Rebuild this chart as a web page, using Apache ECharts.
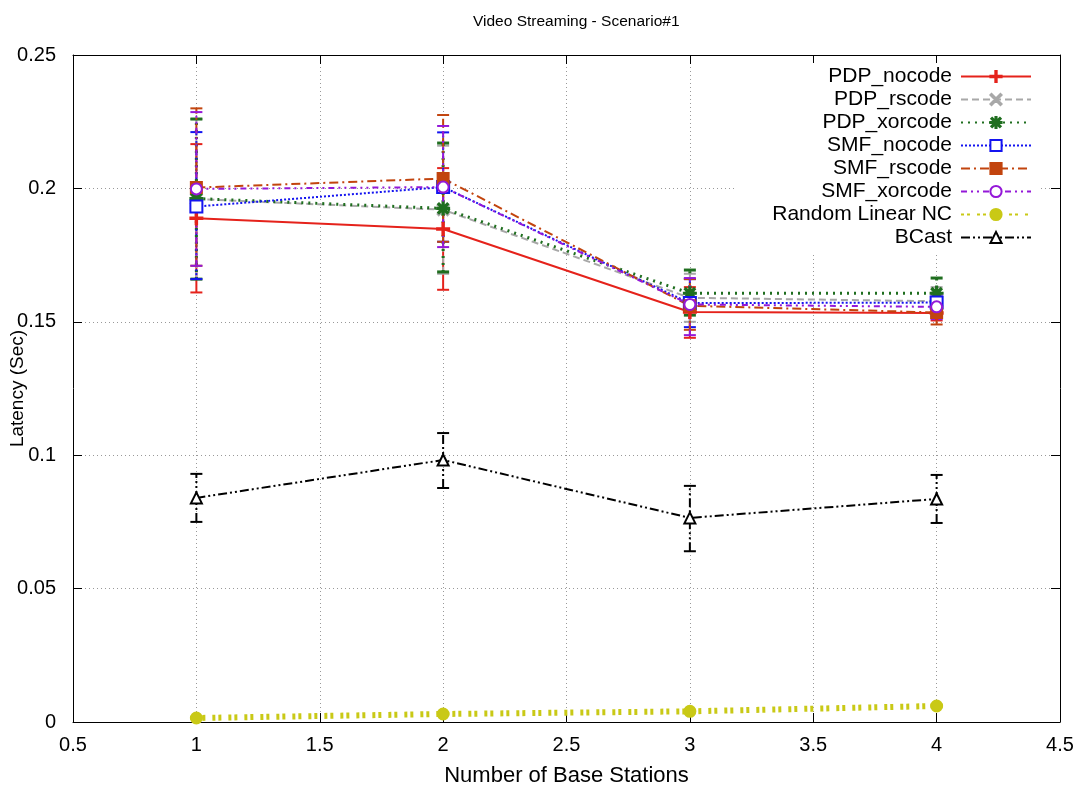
<!DOCTYPE html>
<html>
<head>
<meta charset="utf-8">
<script src="https://cdn.jsdelivr.net/npm/echarts@6/dist/echarts.min.js"></script>
<style>
html,body{margin:0;padding:0;background:#fff;}
#chart{width:1080px;height:790px;}
</style>
</head>
<body>
<div id="chart"></div>
<script>
// ---- data ----
const xValues = [1, 2, 3, 4];
const seriesNames = ['PDP_nocode','PDP_rscode','PDP_xorcode','SMF_nocode','SMF_rscode','SMF_xorcode','Random Linear NC','BCast'];

const pdpNocode     = [0.1888, 0.1848, 0.1537, 0.1533];
const pdpNocodeLow  = [0.1610, 0.1620, 0.1440, 0.1505];
const pdpNocodeHigh = [0.2166, 0.2076, 0.1630, 0.1565];

const pdpRscode     = [0.1960, 0.1920, 0.1590, 0.1577];
const pdpRscodeLow  = [0.1660, 0.1680, 0.1500, 0.1520];
const pdpRscodeHigh = [0.2260, 0.2160, 0.1680, 0.1630];

const pdpXorcode     = [0.1962, 0.1925, 0.1607, 0.1607];
const pdpXorcodeLow  = [0.1660, 0.1687, 0.1525, 0.1550];
const pdpXorcodeHigh = [0.2260, 0.2170, 0.1694, 0.1664];

const smfNocode     = [0.1932, 0.2005, 0.1570, 0.1572];
const smfNocodeLow  = [0.1660, 0.1800, 0.1480, 0.1520];
const smfNocodeHigh = [0.2211, 0.2210, 0.1660, 0.1590];

const smfRscode     = [0.2003, 0.2037, 0.1560, 0.1535];
const smfRscodeLow  = [0.1710, 0.1800, 0.1470, 0.1490];
const smfRscodeHigh = [0.2300, 0.2275, 0.1660, 0.1580];

const smfXorcode     = [0.1998, 0.2005, 0.1565, 0.1556];
const smfXorcodeLow  = [0.1710, 0.1780, 0.1450, 0.1510];
const smfXorcodeHigh = [0.2286, 0.2234, 0.1664, 0.1600];

const randomLinearNC     = [0.0015, 0.0030, 0.0040, 0.0060];
const randomLinearNCLow  = [0.0013, 0.0028, 0.0038, 0.0057];
const randomLinearNCHigh = [0.0017, 0.0032, 0.0042, 0.0063];

const bcast     = [0.0840, 0.0982, 0.0765, 0.0836];
const bcastLow  = [0.0750, 0.0877, 0.0640, 0.0746];
const bcastHigh = [0.0930, 0.1083, 0.0885, 0.0926];

const xTicks = [0.5, 1, 1.5, 2, 2.5, 3, 3.5, 4, 4.5];
const yTicks = [0, 0.05, 0.1, 0.15, 0.2, 0.25];

// ---- styles ----
const FONT = 'Liberation Sans, Arial, Helvetica, sans-serif';
const plusPath  = 'path://M0,4.4 L10,4.4 L10,5.6 L0,5.6 Z M4.4,0 L5.6,0 L5.6,10 L4.4,10 Z';
const crossPath = 'path://M0.6,1.5 L1.5,0.6 L9.4,8.5 L8.5,9.4 Z M8.5,0.6 L9.4,1.5 L1.5,9.4 L0.6,8.5 Z';
const starPath  = 'path://M0.8,1.6 L1.6,0.8 L9.2,8.4 L8.4,9.2 Z M8.4,0.8 L9.2,1.6 L1.6,9.2 L0.8,8.4 Z M0,4.5 L10,4.5 L10,5.5 L0,5.5 Z M4.5,0 L5.5,0 L5.5,10 L4.5,10 Z';

const defs = [
  {name:'PDP_nocode', v:pdpNocode, lo:pdpNocodeLow, hi:pdpNocodeHigh, color:'#e5221b', dash:'solid', w:2, sym:plusPath, size:12},
  {name:'PDP_rscode', v:pdpRscode, lo:pdpRscodeLow, hi:pdpRscodeHigh, color:'#a8a8a8', dash:[7,4], w:2, sym:crossPath, size:11},
  {name:'PDP_xorcode', v:pdpXorcode, lo:pdpXorcodeLow, hi:pdpXorcodeHigh, color:'#1f6e1f', dash:[2,5], w:3, sym:starPath, size:12},
  {name:'SMF_nocode', v:smfNocode, lo:smfNocodeLow, hi:smfNocodeHigh, color:'#1414f0', dash:[2,2], w:2, sym:'emptyRect', size:12},
  {name:'SMF_rscode', v:smfRscode, lo:smfRscodeLow, hi:smfRscodeHigh, color:'#c2440e', dash:[9,4,2,4], w:2, sym:'rect', size:11},
  {name:'SMF_xorcode', v:smfXorcode, lo:smfXorcodeLow, hi:smfXorcodeHigh, color:'#9418d8', dash:[6,4,2,4,2,4], w:2, sym:'emptyCircle', size:11},
  {name:'Random Linear NC', v:randomLinearNC, lo:randomLinearNCLow, hi:randomLinearNCHigh, color:'#c9c916', dash:[3,3,3,7], w:6, sym:'circle', size:11},
  {name:'BCast', v:bcast, lo:bcastLow, hi:bcastHigh, color:'#000000', dash:[9,3,2,3,2,3], w:2, sym:'emptyTriangle', size:11}
];

const series = [];
defs.forEach(function(d){
  const errData = xValues.map(function(x,i){ return [x, d.lo[i], d.hi[i]]; });
  series.push({
    type:'custom', name:d.name + ' err', data:errData, z:2,
    encode:{x:0, y:[1,2]}, silent:true,
    renderItem:function(params, api){
      const x = api.value(0);
      const pLo = api.coord([x, api.value(1)]);
      const pHi = api.coord([x, api.value(2)]);
      const hw = 6;
      const st = {stroke:d.color, lineWidth:d.w > 3 ? 3 : d.w, lineDash: d.dash === 'solid' ? null : d.dash};
      const st2 = {stroke:d.color, lineWidth:d.w > 3 ? 3 : d.w};
      return {type:'group', children:[
        {type:'line', shape:{x1:pLo[0], y1:pLo[1], x2:pHi[0], y2:pHi[1]}, style:st},
        {type:'line', shape:{x1:pLo[0]-hw, y1:pLo[1], x2:pLo[0]+hw, y2:pLo[1]}, style:st2},
        {type:'line', shape:{x1:pHi[0]-hw, y1:pHi[1], x2:pHi[0]+hw, y2:pHi[1]}, style:st2}
      ]};
    }
  });
  series.push({
    type:'line', name:d.name, z:3,
    data: xValues.map(function(x,i){ return [x, d.v[i]]; }),
    symbol:d.sym, symbolSize:d.size, showSymbol:true,
    lineStyle:{color:d.color, width:d.w, type:d.dash},
    itemStyle:{color:d.color, borderColor:d.color, borderWidth:2},
    emphasis:{disabled:true},
    animation:false
  });
});

const chart = echarts.init(document.getElementById('chart'), null, {renderer:'canvas'});
const axisCommon = {
  axisLine:{show:true, onZero:false, lineStyle:{color:'#000', width:1}},
  axisTick:{show:true, inside:true, length:9, lineStyle:{color:'#000'}},
  minorTick:{show:false}
};
chart.setOption({
  animation:false,
  backgroundColor:'#fff',
  textStyle:{fontFamily:FONT},
  title:{
    text:'Video Streaming - Scenario#1',
    left:468, top:9,
    textStyle:{fontFamily:FONT, fontSize:15.5, fontWeight:'normal', color:'#000'}
  },
  legend:{
    data:seriesNames,
    orient:'vertical',
    right:40, top:63,
    align:'right',
    itemWidth:70, itemHeight:14, itemGap:2,
    padding:[3, 8, 6, 36],
    backgroundColor:'#ffffff',
    textStyle:{fontFamily:FONT, fontSize:21, color:'#000', padding:[0,4,0,0]},
    selectedMode:false
  },
  grid:{left:73, right:20, top:55, bottom:68, containLabel:false, outerBoundsMode:'none'},
  xAxis:[
    Object.assign({
      type:'value', min:0.5, max:4.5, interval:0.5, position:'bottom',
      name:'Number of Base Stations', nameLocation:'middle', nameGap:43, nameMoveOverlap:false,
      nameTextStyle:{fontFamily:FONT, fontSize:22, color:'#000'},
      axisLabel:{fontFamily:FONT, fontSize:20, color:'#000', margin:13},
      splitLine:{show:true, lineStyle:{color:'#999', type:[1,3], width:1}}
    }, axisCommon),
    Object.assign({
      type:'value', min:0.5, max:4.5, interval:0.5, position:'top',
      axisLabel:{show:false}, splitLine:{show:false}
    }, axisCommon)
  ],
  yAxis:[
    Object.assign({
      type:'value', min:0, max:0.25, interval:0.05, position:'left',
      name:'Latency (Sec)', nameLocation:'middle', nameGap:46, nameMoveOverlap:false,
      nameTextStyle:{fontFamily:FONT, fontSize:19, color:'#000'},
      axisLabel:{fontFamily:FONT, fontSize:20, color:'#000', margin:17},
      splitLine:{show:true, lineStyle:{color:'#999', type:[1,3], width:1}}
    }, axisCommon),
    Object.assign({
      type:'value', min:0, max:0.25, interval:0.05, position:'right',
      axisLabel:{show:false}, splitLine:{show:false}
    }, axisCommon)
  ],
  series:series
});
</script>
</body>
</html>
